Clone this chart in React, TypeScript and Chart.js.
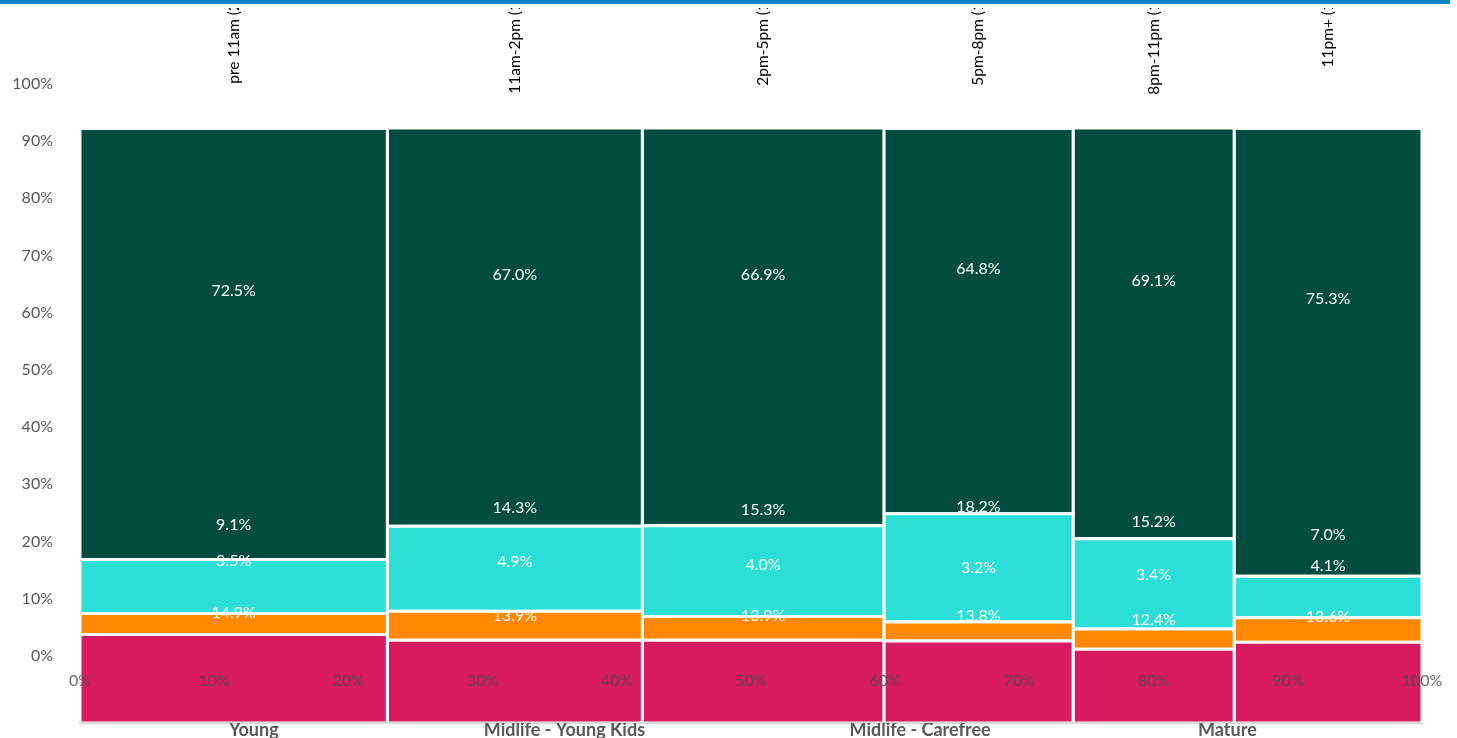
import React, { useEffect, useRef } from "react";
import Chart from "chart.js/auto";

// ---- data ----
const timeSlots = ["pre 11am", "11am-2pm", "2pm-5pm", "5pm-8pm", "8pm-11pm", "11pm+"];
const slotShares = [22.9, 19.0, 18.0, 14.1, 12.0, 14.0];

const crimsonValues = [14.9, 13.9, 13.9, 13.8, 12.4, 13.6];
const orangeValues = [3.5, 4.9, 4.0, 3.2, 3.4, 4.1];
const cyanValues = [9.1, 14.3, 15.3, 18.2, 15.2, 7.0];
const darkGreenValues = [72.5, 67.0, 66.9, 64.8, 69.1, 75.3];

const groupNames = ["Young", "Midlife - Young Kids", "Midlife - Carefree", "Mature"];
const groupTicks = [12.95, 36.1, 62.6, 85.5];

const percentTicks = [0, 10, 20, 30, 40, 50, 60, 70, 80, 90, 100];

const segments = [
  { name: "Segment 1", values: crimsonValues, color: "#D81B60" },
  { name: "Segment 2", values: orangeValues, color: "#FF8800" },
  { name: "Segment 3", values: cyanValues, color: "#2CDFD6" },
  { name: "Segment 4", values: darkGreenValues, color: "#024D40" },
];

const FONT = "Lato";

function buildDatasets() {
  const datasets: any[] = [];
  let xStart = 0;
  slotShares.forEach((w, i) => {
    const x0 = xStart;
    const x1 = xStart + w;
    xStart = x1;
    let cum = 0;
    segments.forEach((seg) => {
      const v = seg.values[i];
      const y0 = cum;
      const y1 = cum + v;
      cum = y1;
      datasets.push({
        label: `${timeSlots[i]} - ${seg.name}`,
        xAxisID: "x",
        yAxisID: "yb",
        data: [
          { x: x0, y: y0 },
          { x: x1, y: y0 },
          { x: x1, y: y1 },
          { x: x0, y: y1 },
          { x: x0, y: y0 },
          { x: x1, y: y0 },
        ],
        fill: "shape",
        backgroundColor: seg.color,
        borderColor: "#ffffff",
        borderWidth: 3,
        borderJoinStyle: "miter",
        pointRadius: 0,
        pointHoverRadius: 0,
        tension: 0,
        clip: false,
      });
    });
  });
  return datasets;
}

const zeroPadding = (s: any) => {
  s.paddingTop = 0;
  s.paddingBottom = 0;
  s.paddingLeft = 0;
  s.paddingRight = 0;
};

const dataLabelsPlugin = {
  id: "segmentLabels",
  afterDatasetsDraw(chart: any) {
    const { ctx } = chart;
    const xs = chart.scales.x;
    const ys = chart.scales.y;
    ctx.save();
    ctx.font = `16px ${FONT}`;
    ctx.fillStyle = "#ffffff";
    ctx.textAlign = "center";
    ctx.textBaseline = "middle";
    let xStart = 0;
    slotShares.forEach((w, i) => {
      const cx = xs.getPixelForValue(xStart + w / 2);
      xStart += w;
      let cum = 0;
      segments.forEach((seg) => {
        const v = seg.values[i];
        const cy = ys.getPixelForValue(cum + v / 2);
        cum += v;
        ctx.fillText(`${v.toFixed(1)}%`, cx, cy);
      });
    });
    ctx.restore();
  },
};

const topLabelsPlugin = {
  id: "topLabels",
  afterDraw(chart: any) {
    const { ctx } = chart;
    const xs = chart.scales.x;
    ctx.save();
    ctx.font = `15.5px ${FONT}`;
    ctx.fillStyle = "#000000";
    ctx.textAlign = "right";
    ctx.textBaseline = "middle";
    const anchorY = 3 - ctx.measureText(`${slotShares[0].toFixed(1)}%)`).width;
    let xStart = 0;
    timeSlots.forEach((name, i) => {
      const c = xStart + slotShares[i] / 2;
      xStart += slotShares[i];
      ctx.save();
      ctx.translate(xs.getPixelForValue(c), anchorY);
      ctx.rotate(-Math.PI / 2);
      ctx.fillText(`${name} (${slotShares[i].toFixed(1)}%)`, 0, 0);
      ctx.restore();
    });
    ctx.restore();
  },
};

export default function App() {
  const ref = useRef<HTMLCanvasElement>(null);

  useEffect(() => {
    if (!ref.current) return;
    const chart = new Chart(ref.current, {
      type: "line",
      data: { datasets: buildDatasets() },
      options: {
        responsive: false,
        animation: false,
        events: [],
        layout: { padding: { top: 76, right: 35, left: 0, bottom: 0 } },
        plugins: {
          legend: { display: false },
          tooltip: { enabled: false },
        },
        scales: {
          x: {
            type: "linear",
            position: { y: 0 },
            min: 0,
            max: 100,
            afterBuildTicks: (s: any) => {
              s.ticks = percentTicks.map((v) => ({ value: v }));
            },
            afterFit: (s: any) => {
              s.height = 0;
              zeroPadding(s);
            },
            ticks: {
              callback: (v: any) => `${v}%`,
              font: { family: FONT, size: 16 },
              color: "rgba(80,80,80,0.85)",
              padding: 16,
              maxRotation: 0,
              autoSkip: false,
              z: 1,
            },
            grid: { display: false, drawTicks: false },
            border: { display: false },
          },
          xg: {
            type: "linear",
            position: "bottom",
            min: 0,
            max: 100,
            afterBuildTicks: (s: any) => {
              s.ticks = groupTicks.map((v) => ({ value: v }));
            },
            afterFit: (s: any) => {
              s.height = 15;
              zeroPadding(s);
            },
            ticks: {
              callback: (v: any) => groupNames[groupTicks.indexOf(v)] ?? "",
              font: { family: FONT, size: 18, weight: "bold" },
              color: "#595959",
              padding: -4,
              maxRotation: 0,
              autoSkip: false,
              z: 1,
            },
            grid: { display: false, drawTicks: false },
            border: { display: true, color: "#d9d9d9", width: 2, z: 1 },
          },
          y: {
            type: "linear",
            position: "left",
            min: -11.77,
            max: 100,
            afterBuildTicks: (s: any) => {
              s.ticks = percentTicks.map((v) => ({ value: v }));
            },
            afterFit: (s: any) => {
              s.width = 80;
              zeroPadding(s);
            },
            ticks: {
              callback: (v: any) => `${v}%`,
              font: { family: FONT, size: 16 },
              color: "#595959",
              padding: 27,
              autoSkip: false,
            },
            grid: { display: false, drawTicks: false },
            border: { display: false },
          },
          yb: {
            type: "linear",
            display: false,
            min: 0,
            max: 107.49,
          },
        },
      } as any,
      plugins: [dataLabelsPlugin, topLabelsPlugin],
    });
    return () => chart.destroy();
  }, []);

  return (
    <>
      <div
        style={{
          position: "fixed",
          top: 0,
          left: 0,
          width: 1450,
          height: 4,
          background: "#0A86C6",
        }}
      />
      <div style={{ position: "fixed", top: 8, left: 0, width: 1457, height: 730 }}>
        <canvas ref={ref} width={1457} height={730} />
      </div>
    </>
  );
}
